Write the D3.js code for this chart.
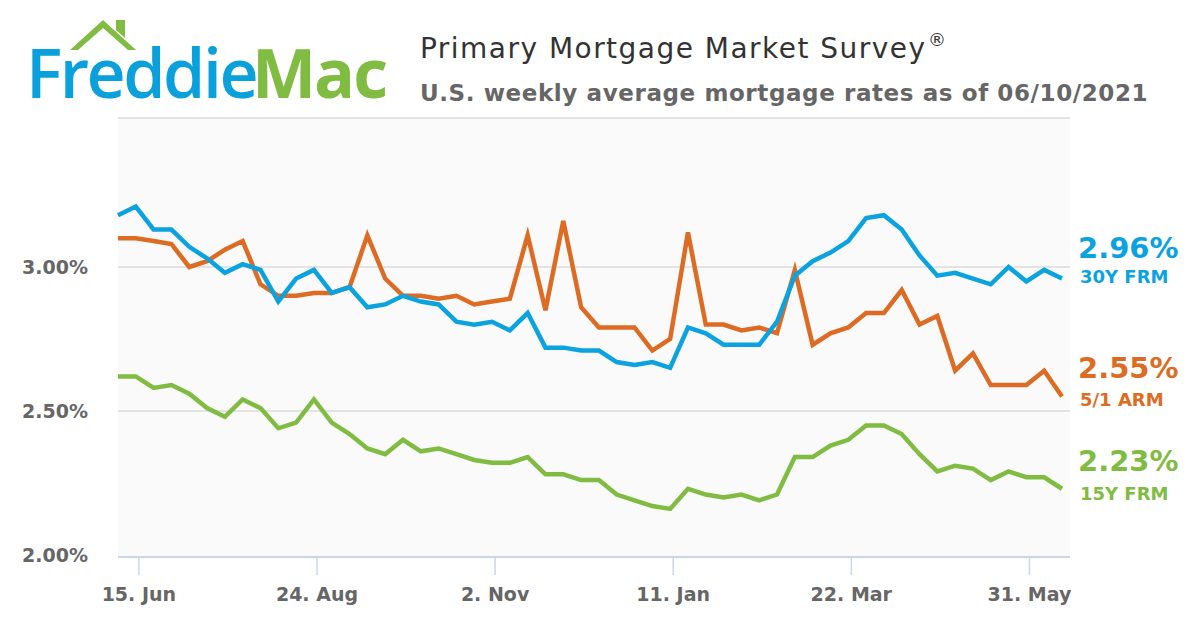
<!DOCTYPE html>
<html><head><meta charset="utf-8">
<script src="https://cdn.jsdelivr.net/npm/d3@7/dist/d3.min.js"></script>
<style>body{margin:0;background:#fff}svg{display:block}</style></head>
<body><svg id="c" width="1200" height="630"></svg>
<script>
const startDate = "2020-06-07";
const frm30 = [3.18,3.21,3.13,3.13,3.07,3.03,2.98,3.01,2.99,2.88,2.96,2.99,2.91,2.93,2.86,2.87,2.90,2.88,2.87,2.81,2.80,2.81,2.78,2.84,2.72,2.72,2.71,2.71,2.67,2.66,2.67,2.65,2.79,2.77,2.73,2.73,2.73,2.81,2.97,3.02,3.05,3.09,3.17,3.18,3.13,3.04,2.97,2.98,2.96,2.94,3.00,2.95,2.99,2.96];
const arm51 = [3.10,3.10,3.09,3.08,3.00,3.02,3.06,3.09,2.94,2.90,2.90,2.91,2.91,2.93,3.11,2.96,2.90,2.90,2.89,2.90,2.87,2.88,2.89,3.11,2.85,3.16,2.86,2.79,2.79,2.79,2.71,2.75,3.12,2.80,2.80,2.78,2.79,2.77,2.99,2.73,2.77,2.79,2.84,2.84,2.92,2.80,2.83,2.64,2.70,2.59,2.59,2.59,2.64,2.55];
const frm15 = [2.62,2.62,2.58,2.59,2.56,2.51,2.48,2.54,2.51,2.44,2.46,2.54,2.46,2.42,2.37,2.35,2.40,2.36,2.37,2.35,2.33,2.32,2.32,2.34,2.28,2.28,2.26,2.26,2.21,2.19,2.17,2.16,2.23,2.21,2.20,2.21,2.19,2.21,2.34,2.34,2.38,2.40,2.45,2.45,2.42,2.35,2.29,2.31,2.30,2.26,2.29,2.27,2.27,2.23];
const xTicks = ["2020-06-15","2020-08-24","2020-11-02","2021-01-11","2021-03-22","2021-05-31"];
const yTicks = [2.0,2.5,3.0];
const seriesNames = ["30Y FRM","5/1 ARM","15Y FRM"];
const seriesColors = ["#0aa3e0","#dd6b23","#80bc42"];

const svg = d3.select("#c");
const F = "'DejaVu Sans', sans-serif";
const parse = d3.utcParse("%Y-%m-%d");
const d0 = parse(startDate);
const dates = frm30.map((_,i)=>d3.utcWeek.offset(d0,i));
const L=118,R=1070,T=118,B=557;
const x = d3.scaleUtc().domain([d0, dates[dates.length-1]]).range([118,1062]);
const y = d3.scaleLinear().domain([2.0,3.0]).range([555,267]);

svg.append("rect").attr("x",L).attr("y",T).attr("width",R-L).attr("height",B-T).attr("fill","#fafafa");
svg.append("line").attr("x1",L).attr("x2",R).attr("y1",T).attr("y2",T).attr("stroke","#e3e3e3").attr("stroke-width",2);
yTicks.forEach(v=>{
  if(v>2.0) svg.append("line").attr("x1",L).attr("x2",R).attr("y1",y(v)).attr("y2",y(v)).attr("stroke","#e3e3e3").attr("stroke-width",2);
  svg.append("text").attr("x",88).attr("y",y(v)+7).attr("text-anchor","end").attr("font-family",F).attr("font-size",19).attr("font-weight","bold").attr("fill","#666").text(v.toFixed(2)+"%");
});
const xa = svg.append("g").attr("transform",`translate(0,${B})`)
  .call(d3.axisBottom(x).tickValues(xTicks.map(parse)).tickFormat(d3.utcFormat("%-d. %b")).tickSize(18).tickSizeOuter(0));
xa.select(".domain").attr("stroke","#ccd6eb").attr("stroke-width",2).attr("d",`M${L},0H${R}`);
xa.selectAll(".tick line").attr("stroke","#ccd6eb").attr("stroke-width",1.5);
xa.selectAll(".tick text").attr("font-family",F).attr("font-size",19).attr("font-weight","bold").attr("fill","#666").attr("dy","1.2em");

const line = d3.line().x((d,i)=>x(dates[i])).y(d=>y(d));
const all=[frm30,arm51,frm15];
[arm51,frm30,frm15].forEach(s=>{
  const k=all.indexOf(s);
  svg.append("path").attr("d",line(s)).attr("fill","none").attr("stroke",seriesColors[k]).attr("stroke-width",4.5);
});
const lbl=[[258,283],[378,406],[471,500]];
all.forEach((s,k)=>{
  svg.append("text").attr("x",1078).attr("y",lbl[k][0]).attr("font-family",F).attr("font-size",29).attr("font-weight","bold").attr("fill",seriesColors[k]).text(s[s.length-1].toFixed(2)+"%");
  svg.append("text").attr("x",1080).attr("y",lbl[k][1]).attr("font-family",F).attr("font-size",18).attr("font-weight","bold").attr("fill",seriesColors[k]).text(seriesNames[k]);
});

// logo
svg.append("path").attr("d","M70,50 L103,20 L136,50 L128,50 L103,28 L78,50 Z M116,20 h9 v18 l-9,-8 Z").attr("fill","#80bc42");
svg.append("text").attr("x",26).attr("y",98).attr("font-family","'Open Sans', sans-serif").attr("font-size",68).attr("font-weight",600).attr("letter-spacing",-2.5).attr("fill","#0aa0dc").text("Freddie");
svg.append("text").attr("x",252).attr("y",98).attr("font-family","'Open Sans', sans-serif").attr("font-size",68).attr("font-weight",700).attr("letter-spacing",-2).attr("fill","#80bc42").text("Mac");
svg.append("text").attr("x",420).attr("y",58).attr("font-family",F).attr("font-size",28).attr("fill","#333").attr("textLength",505).text("Primary Mortgage Market Survey");
svg.append("text").attr("x",928).attr("y",46).attr("font-family",F).attr("font-size",18).attr("fill","#333").text("®");
svg.append("text").attr("x",420).attr("y",101).attr("font-family",F).attr("font-size",23).attr("font-weight","bold").attr("letter-spacing",0.6).attr("fill","#666").text("U.S. weekly average mortgage rates as of 06/10/2021");
</script></body></html>
